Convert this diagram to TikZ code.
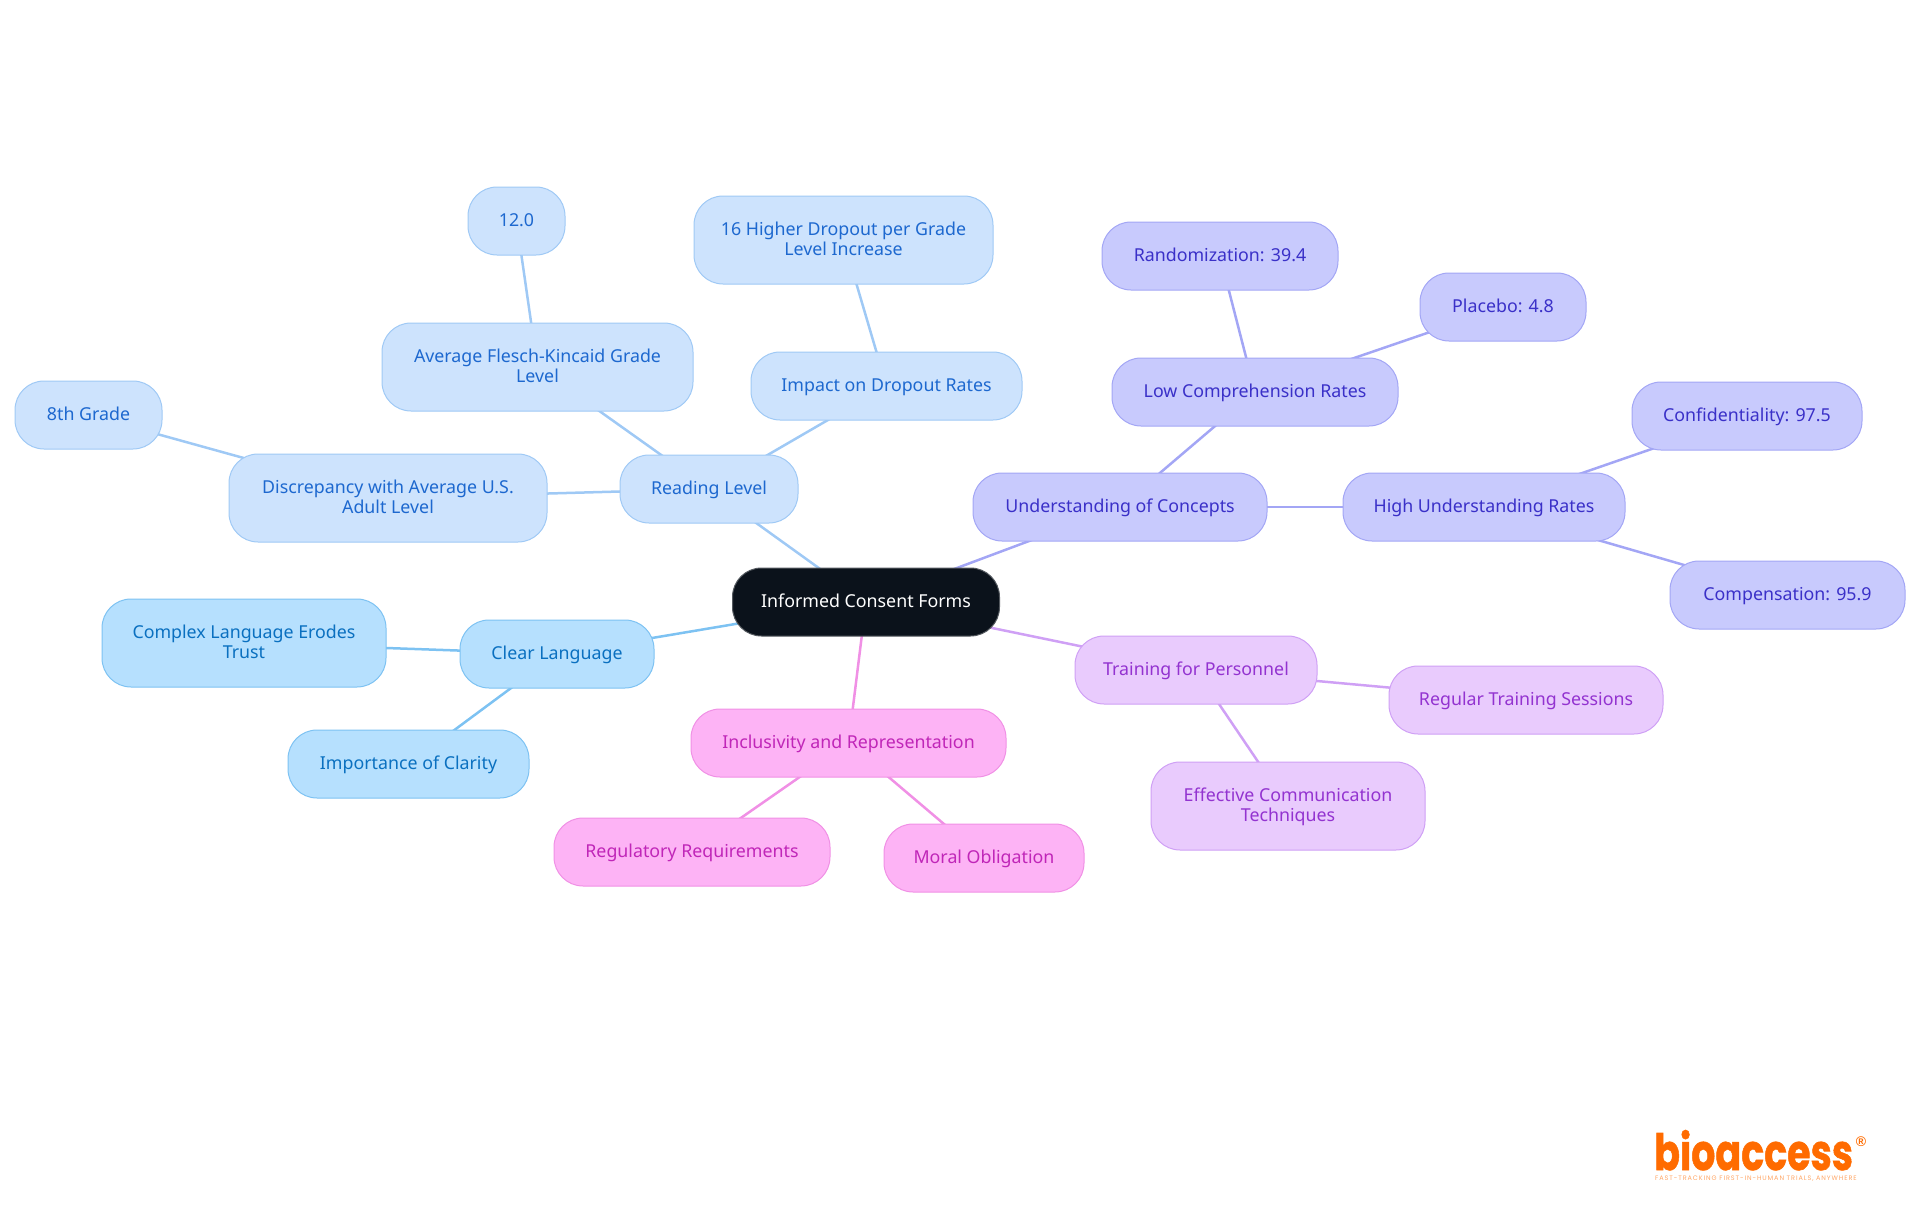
\documentclass[tikz,border=0pt]{standalone}
\usepackage{fontspec}
\setmainfont{Noto Sans}
\newfontfamily\logofont[BoldFeatures={FakeBold=1.2}]{Poppins}
\newfontfamily\tagfont[LetterSpace=14]{Poppins}
\newfontfamily\markfont{Liberation Sans}
\usetikzlibrary{backgrounds}
\definecolor{root_fill}{HTML}{0B121B}
\definecolor{reading_fill}{HTML}{CDE3FD}
\definecolor{reading_line}{HTML}{9FC9F5}
\definecolor{reading_text}{HTML}{1D68CF}
\definecolor{concepts_fill}{HTML}{C8CAFD}
\definecolor{concepts_line}{HTML}{A3A6F5}
\definecolor{concepts_text}{HTML}{3A30C8}
\definecolor{clear_fill}{HTML}{B6E0FE}
\definecolor{clear_line}{HTML}{7DC2F2}
\definecolor{clear_text}{HTML}{0A70C0}
\definecolor{training_fill}{HTML}{E9CBFD}
\definecolor{training_line}{HTML}{CFA0F5}
\definecolor{training_text}{HTML}{9333D0}
\definecolor{inclusive_fill}{HTML}{FDB3F5}
\definecolor{inclusive_line}{HTML}{F090E5}
\definecolor{inclusive_text}{HTML}{C026B8}
\definecolor{logo_orange}{HTML}{FF6B00}
\newcommand{\boxstrut}{\rule[-4.1pt]{0pt}{20pt}}
\tikzstyle{box} = [rectangle, rounded corners=29pt, line width=1pt, inner sep=0pt, minimum height=68pt, align=center, font=\fontsize{17.8}{20}\selectfont, execute at begin node=\boxstrut, execute at end node=\boxstrut]
\tikzstyle{two_line} = [minimum height=88pt, execute at begin node={\rule{0pt}{35pt}}]
\tikzstyle{root_box} = [box, draw=root_fill!70!white, fill=root_fill, text=white]
\tikzstyle{reading_box} = [box, draw=reading_line, fill=reading_fill, text=reading_text]
\tikzstyle{concepts_box} = [box, draw=concepts_line, fill=concepts_fill, text=concepts_text]
\tikzstyle{clear_box} = [box, draw=clear_line, fill=clear_fill, text=clear_text]
\tikzstyle{training_box} = [box, draw=training_line, fill=training_fill, text=training_text]
\tikzstyle{inclusive_box} = [box, draw=inclusive_line, fill=inclusive_fill, text=inclusive_text]
\tikzstyle{reading_edge} = [line width=2.5pt, reading_line]
\tikzstyle{concepts_edge} = [line width=2.5pt, concepts_line]
\tikzstyle{clear_edge} = [line width=2.5pt, clear_line]
\tikzstyle{training_edge} = [line width=2.5pt, training_line]
\tikzstyle{inclusive_edge} = [line width=2.5pt, inclusive_line]
\begin{document}
\begin{tikzpicture}[x=1pt, y=-1pt]
        \useasboundingbox (0,0) rectangle (1920,1215);

        \node (root) [root_box, minimum width=267pt] at (866,602) {Informed Consent Forms};

        % reading level branch
        \node (reading_level) [reading_box, minimum width=178pt] at (709,489) {Reading Level};
        \node (discrepancy) [reading_box, two_line, minimum width=318pt] at (388,498) {Discrepancy with Average U.S.\\Adult Level};
        \node (average_grade) [reading_box, two_line, minimum width=311pt] at (537.5,367) {Average Flesch-Kincaid Grade\\Level};
        \node (impact) [reading_box, minimum width=271pt] at (886.5,386) {Impact on Dropout Rates};
        \node (grade_value) [reading_box, minimum width=97pt] at (516.5,221) {12.0};
        \node (dropout) [reading_box, two_line, minimum width=299pt] at (843.5,240) {16 Higher Dropout per Grade\\Level Increase};
        \node (eighth_grade) [reading_box, minimum width=147pt] at (88.5,415) {8th Grade};

        % understanding branch
        \node (understanding) [concepts_box, minimum width=294pt] at (1120,507) {Understanding of Concepts};
        \node (low_rates) [concepts_box, minimum width=286pt] at (1255,392) {Low Comprehension Rates};
        \node (randomization) [concepts_box, minimum width=236pt] at (1220,256) {Randomization: 39.4};
        \node (placebo) [concepts_box, minimum width=166pt] at (1503,307) {Placebo: 4.8};
        \node (high_rates) [concepts_box, minimum width=282pt] at (1484,507) {High Understanding Rates};
        \node (confidentiality) [concepts_box, minimum width=230pt] at (1747,416) {Confidentiality: 97.5};
        \node (compensation) [concepts_box, minimum width=235pt] at (1787.5,595) {Compensation: 95.9};

        % clear language branch
        \node (clear_language) [clear_box, minimum width=194pt] at (557,654) {Clear Language};
        \node (complex_language) [clear_box, two_line, minimum width=284pt] at (244,643) {Complex Language Erodes\\Trust};
        \node (clarity) [clear_box, minimum width=241pt] at (408.5,764) {Importance of Clarity};

        % training branch
        \node (training) [training_box, minimum width=242pt] at (1196,670) {Training for Personnel};
        \node (sessions) [training_box, minimum width=274pt] at (1526,700) {Regular Training Sessions};
        \node (communication) [training_box, two_line, minimum width=274pt] at (1288,806) {Effective Communication\\Techniques};

        % inclusivity branch
        \node (inclusivity) [inclusive_box, minimum width=315pt] at (848.5,743) {Inclusivity and Representation};
        \node (regulatory) [inclusive_box, minimum width=276pt] at (692,852) {Regulatory Requirements};
        \node (moral) [inclusive_box, minimum width=200pt] at (984,858) {Moral Obligation};

        \begin{scope}[on background layer]
            \draw [reading_edge] (root.center) -- (reading_level.center);
            \draw [reading_edge] (reading_level.center) -- (discrepancy.center);
            \draw [reading_edge] (reading_level.center) -- (average_grade.center);
            \draw [reading_edge] (reading_level.center) -- (impact.center);
            \draw [reading_edge] (average_grade.center) -- (grade_value.center);
            \draw [reading_edge] (impact.center) -- (dropout.center);
            \draw [reading_edge] (discrepancy.center) -- (eighth_grade.center);
            \draw [concepts_edge] (root.center) -- (understanding.center);
            \draw [concepts_edge] (understanding.center) -- (low_rates.center);
            \draw [concepts_edge] (understanding.center) -- (high_rates.center);
            \draw [concepts_edge] (low_rates.center) -- (randomization.center);
            \draw [concepts_edge] (low_rates.center) -- (placebo.center);
            \draw [concepts_edge] (high_rates.center) -- (confidentiality.center);
            \draw [concepts_edge] (high_rates.center) -- (compensation.center);
            \draw [clear_edge] (root.center) -- (clear_language.center);
            \draw [clear_edge] (clear_language.center) -- (complex_language.center);
            \draw [clear_edge] (clear_language.center) -- (clarity.center);
            \draw [training_edge] (root.center) -- (training.center);
            \draw [training_edge] (training.center) -- (sessions.center);
            \draw [training_edge] (training.center) -- (communication.center);
            \draw [inclusive_edge] (root.center) -- (inclusivity.center);
            \draw [inclusive_edge] (inclusivity.center) -- (regulatory.center);
            \draw [inclusive_edge] (inclusivity.center) -- (moral.center);
        \end{scope}

        % logo
        \node (logo) [anchor=base west, inner sep=0pt, xscale=0.76, transform shape, text=logo_orange, font=\logofont\bfseries\fontsize{50}{50}\selectfont] at (1654,1170) {bioaccess};
        \node (logo_mark) [anchor=center, inner sep=0pt, text=logo_orange, font=\markfont\bfseries\fontsize{14}{14}\selectfont] at (1861,1142) {®};
        \node (logo_tag) [anchor=base west, inner sep=0pt, text=logo_orange!60!white, font=\tagfont\fontsize{6.5}{7}\selectfont] at (1655,1180) {FAST-TRACKING FIRST-IN-HUMAN TRIALS, ANYWHERE};
    \end{tikzpicture}
\end{document}
